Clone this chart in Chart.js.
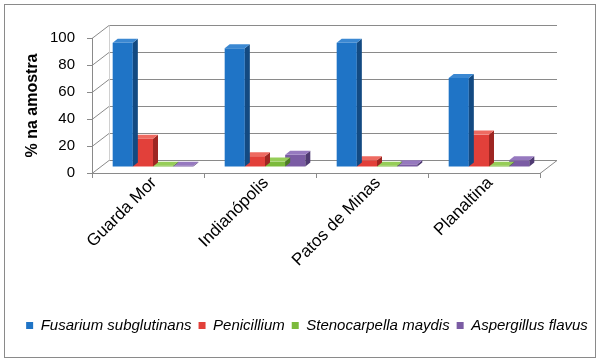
<!DOCTYPE html>
<html><head><meta charset="utf-8">
<script src="https://cdn.jsdelivr.net/npm/chart.js@4/dist/chart.umd.min.js"></script>
<style>html,body{margin:0;padding:0;background:#fff}#wrap{width:600px;height:363px}</style>
</head><body><div id="wrap"><canvas id="c" width="600" height="363"></canvas></div>
<script>
// ---- data ----
const categories = ['Guarda Mor', 'Indianópolis', 'Patos de Minas', 'Planaltina'];
const seriesNames = ['Fusarium subglutinans', 'Penicillium', 'Stenocarpella maydis', 'Aspergillus flavus'];
const fusarium = [92, 88, 92, 66];
const penicillium = [21, 8, 5, 24];
const stenocarpella = [1, 4, 1, 1];
const aspergillus = [1, 9, 2, 5];
const yTicks = [0, 20, 40, 60, 80, 100];
const yTitle = '% na amostra';

// ---- styles ----
const frontColors = ['#1f74c6', '#e2403a', '#7cba3c', '#7b5ca4'];
const sideColors  = ['#134a82', '#9e2622', '#4e7e22', '#4f3a72'];
const topColors   = ['#3b88d2', '#ee6a61', '#96cd58', '#9679bf'];
const WALL_DX = 17, WALL_DY = -13;   // depth of the back wall
const BAR_DX = 5, BAR_DY = -6;       // position of bars inside the depth
const SIDE_DX = 5, SIDE_DY = -4;     // depth of each bar
const lineColor = '#8a8a8a';

const seriesValues = [fusarium, penicillium, stenocarpella, aspergillus];

const frame3d = {
  id: 'frame3d',
  beforeDraw(chart) {
    const ctx = chart.ctx;
    ctx.save();
    ctx.fillStyle = '#fff';
    ctx.fillRect(0, 0, chart.width, chart.height);
    ctx.strokeStyle = '#8a8a8a';
    ctx.lineWidth = 1;
    ctx.strokeRect(4.5, 4.5, 591, 353);
    ctx.restore();
  },
  beforeDatasetsDraw(chart) {
    const ctx = chart.ctx;
    const a = chart.chartArea;
    const ys = chart.scales.y;
    ctx.save();
    ctx.strokeStyle = lineColor;
    ctx.lineWidth = 1;
    yTicks.forEach(v => {
      const y = Math.round(ys.getPixelForValue(v)) + 0.5;
      ctx.beginPath();
      ctx.moveTo(a.left, y);
      ctx.lineTo(a.left + WALL_DX, y + WALL_DY);
      ctx.lineTo(a.right + WALL_DX, y + WALL_DY);
      ctx.stroke();
    });
    const y0 = Math.round(ys.getPixelForValue(0)) + 0.5;
    const y1 = Math.round(ys.getPixelForValue(100)) + 0.5;
    ctx.strokeStyle = '#d0d0d0';
    ctx.beginPath();
    ctx.moveTo(a.left + WALL_DX + 0.5, y0 + WALL_DY);
    ctx.lineTo(a.left + WALL_DX + 0.5, y1 + WALL_DY);
    ctx.stroke();
    ctx.strokeStyle = lineColor;
    ctx.beginPath();
    ctx.moveTo(a.right, y0);
    ctx.lineTo(a.right + WALL_DX, y0 + WALL_DY);
    ctx.stroke();
    ctx.restore();
    ctx.save();
    ctx.translate(BAR_DX, BAR_DY);
  },
  afterDatasetDraw(chart, args) {
    const ctx = chart.ctx;
    const i = args.index;
    args.meta.data.forEach(el => {
      const p = el.getProps(['x', 'y', 'base', 'width'], true);
      const l = p.x - p.width / 2, r = p.x + p.width / 2;
      const t = p.y, b = p.base;
      ctx.fillStyle = sideColors[i];
      ctx.beginPath();
      ctx.moveTo(r, t); ctx.lineTo(r + SIDE_DX, t + SIDE_DY);
      ctx.lineTo(r + SIDE_DX, b + SIDE_DY); ctx.lineTo(r, b);
      ctx.closePath(); ctx.fill();
      ctx.fillStyle = topColors[i];
      ctx.beginPath();
      ctx.moveTo(l, t); ctx.lineTo(l + SIDE_DX, t + SIDE_DY);
      ctx.lineTo(r + SIDE_DX, t + SIDE_DY); ctx.lineTo(r, t);
      ctx.closePath(); ctx.fill();
    });
  },
  afterDatasetsDraw(chart) {
    chart.ctx.restore();
  }
};

const datasets = seriesNames.map((name, i) => ({
  label: name,
  data: seriesValues[i],
  backgroundColor: frontColors[i],
  borderWidth: 0,
  categoryPercentage: 0.72,
  barPercentage: 1.0,
  clip: false
}));

new Chart(document.getElementById('c'), {
  type: 'bar',
  data: { labels: categories, datasets },
  plugins: [frame3d],
  options: {
    responsive: false,
    animation: false,
    devicePixelRatio: 1,
    layout: { padding: { left: 14, right: 0, top: 38, bottom: 20 } },
    plugins: {
      tooltip: { enabled: false },
      legend: {
        position: 'bottom',
        labels: {
          boxWidth: 7, boxHeight: 7, padding: 7, color: '#000',
          font: { family: 'Liberation Sans', size: 15, style: 'italic' }
        }
      }
    },
    scales: {
      x: {
        grid: { display: true, drawOnChartArea: false, drawTicks: true, tickLength: 5, color: lineColor, offset: true },
        border: { display: true, color: lineColor },
        ticks: { minRotation: 45, maxRotation: 45, padding: -5, labelOffset: 6, color: '#000',
                 font: { family: 'Liberation Sans', size: 17 } },
        afterFit: s => { s.height = 138; }
      },
      y: {
        min: 0, max: 100,
        afterBuildTicks: s => { s.ticks = yTicks.map(v => ({ value: v })); },
        grid: { display: true, drawOnChartArea: false, drawTicks: true, tickLength: 5, color: lineColor },
        border: { display: true, color: lineColor },
        ticks: { padding: 12, color: '#000', font: { family: 'Liberation Sans', size: 15 } },
        title: { display: true, text: yTitle, color: '#000', padding: { top: 9, bottom: 0 },
                 font: { family: 'Liberation Sans', size: 16, weight: 'bold' } },
        afterFit: s => { s.width = 78; }
      },
      yR: {
        position: 'right', display: true,
        grid: { display: false }, border: { display: false },
        ticks: { display: false },
        afterFit: s => { s.width = 60; }
      }
    }
  }
});
</script>
</body></html>
